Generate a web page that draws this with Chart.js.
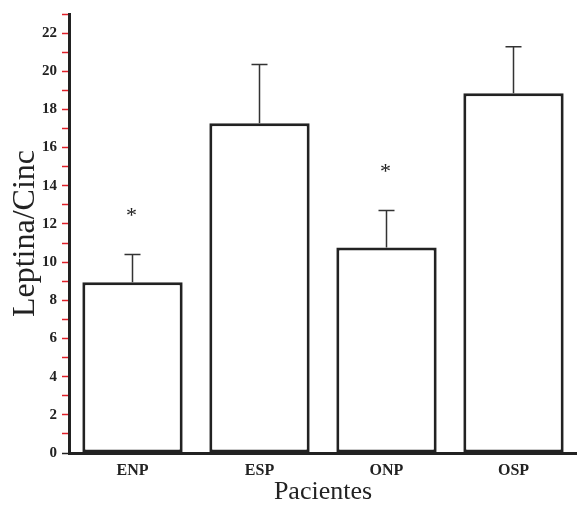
<!DOCTYPE html>
<html>
<head>
<meta charset="utf-8">
<script src="https://cdn.jsdelivr.net/npm/chart.js@4/dist/chart.umd.min.js"></script>
<style>
  body { margin: 0; background: white; }
  canvas { display: block; }
</style>
</head>
<body>
<canvas id="chart" width="577" height="508"></canvas>
<script>
const categories = ['ENP', 'ESP', 'ONP', 'OSP']
const means = [8.95, 17.27, 10.77, 18.85]
const errors = [1.45, 3.08, 1.93, 2.44]
const significant = [true, false, true, false]

const serif = '"Liberation Serif", "DejaVu Serif", serif'

// draws the error bars (upper half only) and the * marks
const errorBars = {
  id: 'errorBars',
  afterDatasetsDraw(chart) {
    const ctx = chart.ctx
    const y = chart.scales.y
    const meta = chart.getDatasetMeta(0)
    ctx.save()
    ctx.strokeStyle = '#333'
    ctx.lineWidth = 1.5
    meta.data.forEach((bar, i) => {
      const top = y.getPixelForValue(means[i] + errors[i])
      const base = y.getPixelForValue(means[i])
      ctx.beginPath()
      ctx.moveTo(bar.x, base)
      ctx.lineTo(bar.x, top)
      ctx.moveTo(bar.x - 8, top)
      ctx.lineTo(bar.x + 8, top)
      ctx.stroke()
      if (significant[i]) {
        ctx.fillStyle = '#222'
        ctx.font = '22px ' + serif
        ctx.textAlign = 'center'
        ctx.textBaseline = 'middle'
        ctx.fillText('*', bar.x - 1, top - 38)
      }
    })
    ctx.restore()
  }
}

new Chart(document.getElementById('chart'), {
  type: 'bar',
  data: {
    labels: categories,
    datasets: [{
      data: means,
      backgroundColor: 'white',
      borderColor: '#222',
      borderWidth: 3,
      borderSkipped: false,
      barPercentage: 0.79,
      categoryPercentage: 1
    }]
  },
  options: {
    responsive: false,
    animation: false,
    layout: { padding: { top: 11, left: 6, right: 0, bottom: 0 } },
    plugins: {
      legend: { display: false },
      tooltip: { enabled: false }
    },
    scales: {
      x: {
        grid: { display: false, drawTicks: false },
        border: { color: '#222', width: 3 },
        ticks: {
          color: '#222',
          padding: 8,
          font: { family: serif, size: 16, weight: 'bold' }
        },
        title: {
          display: true,
          text: 'Pacientes',
          color: '#222',
          padding: { top: 5, bottom: 0 },
          font: { family: serif, size: 26 }
        },
        afterFit(scale) { scale.height = 55 }
      },
      y: {
        min: 0,
        max: 23,
        border: { color: '#222', width: 3 },
        grid: {
          drawOnChartArea: false,
          tickLength: 7,
          tickWidth: 1.5,
          tickColor: c => c.tick && c.tick.value === 0 ? '#222' : '#e0202a'
        },
        ticks: {
          stepSize: 1,
          autoSkip: false,
          color: '#222',
          padding: 5,
          font: { family: serif, size: 15, weight: 'bold' },
          callback: v => v % 2 === 0 ? v : ''
        },
        title: {
          display: true,
          text: 'Leptina/Cinc',
          color: '#222',
          padding: { top: 0, bottom: 0 },
          font: { family: serif, size: 32 }
        },
        afterFit(scale) { scale.width = 63 }
      }
    }
  },
  plugins: [errorBars]
})
</script>
</body>
</html>
